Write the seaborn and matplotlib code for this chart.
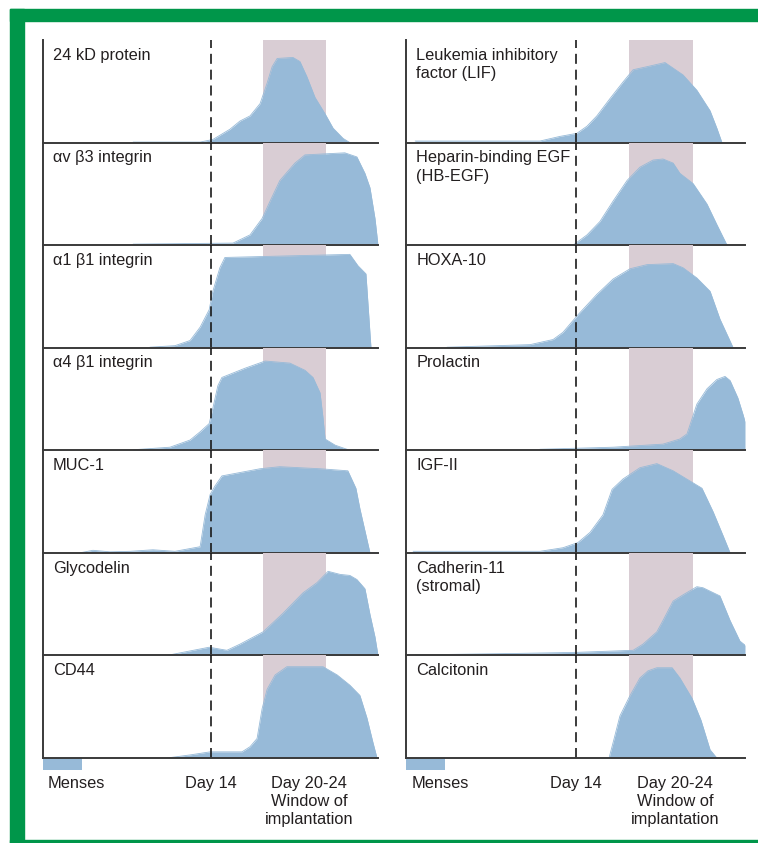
import matplotlib
matplotlib.use("Agg")
import matplotlib.pyplot as plt
from matplotlib.patches import Rectangle
import seaborn as sns

# x = position along the cycle axis (0-100, Day 14 at 50)
# y = relative expression, % of panel height
DAY14 = 50
WINDOW = [65.8, 84.6]
MENSES = [0, 11.6]

TICK_LABELS = ["Menses", "Day 14", "Day 20-24\nWindow of\nimplantation"]
TICK_POS = [10, 50.2, 79.4]

LEFT_LABELS = ["24 kD protein", "αv β3 integrin", "α1 β1 integrin", "α4 β1 integrin",
               "MUC-1", "Glycodelin", "CD44"]
RIGHT_LABELS = ["Leukemia inhibitory\nfactor (LIF)", "Heparin-binding EGF\n(HB-EGF)", "HOXA-10",
                "Prolactin", "IGF-II", "Cadherin-11\n(stromal)", "Calcitonin"]

# left column
kd24_x = [26.9, 46.9, 50.7, 55.8, 58.8, 61.8, 64.8, 66.9, 68.4, 69.9, 74.6, 76.7, 78.8, 81.2, 84.2, 86.6, 89.6, 91.6]
kd24_y = [0.5, 0.5, 3, 13, 21, 26, 38, 58, 74, 82, 83, 79, 64, 44, 28, 14, 4, 0]
avb3_x = [26.9, 56.7, 61.8, 65.4, 67.8, 70.7, 75.2, 78.2, 90.1, 93.7, 96.1, 97.6, 99.1, 100]
avb3_y = [1, 2, 10, 26, 43, 63, 80, 88, 90, 86, 70, 56, 26, 0]
a1b1_x = [31.9, 39.4, 43.9, 46.9, 49.6, 50.7, 52.8, 54.3, 91.6, 94.0, 96.4, 97.9]
a1b1_y = [0.5, 2, 7, 20, 37, 55, 78, 88, 91, 80, 72, 0]
a4b1_x = [26.9, 37.9, 43.9, 46.9, 49.6, 50.7, 52.2, 53.4, 60.3, 66.3, 73.7, 78.2, 80.6, 82.7, 83.6, 84.2, 87.2, 91.6]
a4b1_y = [0.5, 3, 10, 18, 26, 41, 63, 71, 80, 87, 85, 78, 71, 56, 31, 11, 5, 0]
muc1_x = [11.0, 14.9, 20.0, 26.0, 32.8, 39.4, 46.9, 48.4, 49.9, 51.3, 53.4, 64.8, 70.7, 82.7, 91.0, 93.4, 94.6, 97.6]
muc1_y = [0, 2.5, 1, 1.5, 3, 1.5, 6, 37, 57, 65, 75, 82, 84, 82, 80, 63, 43, 0]
glyc_x = [37.0, 49.6, 54.9, 58.8, 65.7, 71.6, 77.6, 81.8, 85.1, 88.7, 91.6, 93.7, 96.1, 97.6, 99.1, 100]
glyc_y = [0, 8, 5, 11, 23, 41, 61, 71, 82, 79, 78, 74, 65, 40, 18, 0]
cd44_x = [37.0, 43.9, 49.9, 59.4, 61.8, 63.9, 65.4, 66.9, 69.3, 72.8, 83.6, 87.8, 91.6, 94.6, 96.7, 98.5, 99.7]
cd44_y = [0, 3, 6, 6, 11, 19, 48, 67, 81, 89, 89, 81, 71, 61, 39, 15, 0]

# right column
lif_x = [2.7, 39.5, 45.4, 50.4, 53.4, 56.3, 60.2, 64.0, 67.0, 71.1, 76.4, 81.7, 85.8, 89.7, 91.7, 93.2]
lif_y = [1.5, 1.5, 6, 9, 16, 26, 43, 59, 71, 74, 78, 66, 51, 31, 14, 0]
hbegf_x = [49.3, 53.4, 57.2, 61.1, 65.2, 69.0, 72.9, 75.8, 78.8, 80.8, 84.7, 88.8, 91.7, 94.7]
hbegf_y = [0, 10, 23, 43, 63, 76, 83, 84, 80, 70, 60, 40, 20, 0]
hoxa_x = [12.1, 36.6, 43.4, 46.3, 50.7, 56.3, 61.1, 66.1, 71.1, 78.8, 81.7, 85.8, 89.7, 92.6, 96.5]
hoxa_y = [0.5, 3, 8, 15, 32, 52, 67, 77, 81, 82, 78, 68, 55, 28, 0]
prl_x = [39.5, 61.1, 75.8, 80.8, 82.9, 85.8, 88.8, 91.7, 94.1, 95.6, 97.9, 99.4, 100]
prl_y = [1, 3, 6, 11, 16, 45, 60, 69, 72, 68, 51, 35, 28]
igf2_x = [2.1, 39.5, 46.3, 50.7, 54.3, 58.1, 60.8, 64.0, 69.0, 74.0, 78.8, 83.8, 87.3, 90.6, 93.5, 95.6]
igf2_y = [1.5, 1.5, 5, 10, 20, 37, 62, 72, 83, 87, 80, 70, 63, 40, 17, 0]
cdh11_x = [2.7, 33.6, 50.4, 67.0, 69.9, 74.0, 75.8, 78.8, 81.7, 85.8, 87.6, 92.6, 95.6, 98.5, 100]
cdh11_y = [0.5, 2, 3, 5, 11, 23, 34, 53, 59, 67, 66, 58, 34, 14, 10]
calc_x = [59.9, 61.4, 63.1, 66.1, 69.0, 71.4, 74.0, 78.5, 80.8, 84.4, 87.0, 89.7, 91.7]
calc_y = [0, 19, 41, 61, 78, 85, 88, 88, 78, 58, 37, 8, 0]

left_curves = [(kd24_x, kd24_y), (avb3_x, avb3_y), (a1b1_x, a1b1_y), (a4b1_x, a4b1_y),
               (muc1_x, muc1_y), (glyc_x, glyc_y), (cd44_x, cd44_y)]
right_curves = [(lif_x, lif_y), (hbegf_x, hbegf_y), (hoxa_x, hoxa_y), (prl_x, prl_y),
                (igf2_x, igf2_y), (cdh11_x, cdh11_y), (calc_x, calc_y)]

BLUE = "#97bad8"
PINK = "#d9cdd4"
GREEN = "#00964a"
INK = "#231f20"
LINE = "#3a3a3a"

sns.set_theme(style="white")
plt.rcParams["font.family"] = ["Liberation Sans", "DejaVu Sans"]

W, H = 758, 843
fig = plt.figure(figsize=(W / 100, H / 100), dpi=100)
fig.patch.set_facecolor("white")

# green frame
for x0, y0, w, h in [(10, 9, 748, 12), (10, 9, 14, 834), (10, 840, 748, 3)]:
    fig.patches.append(Rectangle((x0 / W, 1 - (y0 + h) / H), w / W, h / H,
                                 transform=fig.transFigure, color=GREEN, zorder=0))

top, bottom = 1 - 40 / H, 1 - 758 / H
columns = [(43, 378, LEFT_LABELS, left_curves), (406, 745, RIGHT_LABELS, right_curves)]

for x_left, x_right, labels, curves in columns:
    gs = fig.add_gridspec(7, 1, left=x_left / W, right=x_right / W, top=top, bottom=bottom, hspace=0)
    for i, (label, (cx, cy)) in enumerate(zip(labels, curves)):
        ax = fig.add_subplot(gs[i, 0])
        ax.set_facecolor("none")
        ax.axvspan(WINDOW[0], WINDOW[1], color=PINK, lw=0, zorder=0)
        ax.fill_between(cx, cy, color=BLUE, lw=0, zorder=2)
        sns.lineplot(x=cx, y=cy, ax=ax, color=BLUE, lw=0.6, estimator=None, sort=False, zorder=2)
        ax.axvline(DAY14, color="#1a1a1a", lw=1.2, ls=(0, (6, 3.5)), zorder=4)
        ax.text(0.03, 0.925, label, transform=ax.transAxes, ha="left", va="top",
                fontsize=11.8, color=INK, linespacing=1.3, zorder=5)
        ax.set(xlim=(0, 100), ylim=(0, 100), xticks=[], yticks=[], xlabel="", ylabel="")
        for side in ["top", "right"]:
            ax.spines[side].set_visible(False)
        for side in ["left", "bottom"]:
            ax.spines[side].set_color(LINE)
            ax.spines[side].set_linewidth(1.4)
            ax.spines[side].set_zorder(6)
        if i == 6:
            trans = ax.get_xaxis_transform()
            ax.add_patch(Rectangle((MENSES[0], -0.115), MENSES[1] - MENSES[0], 0.115,
                                   transform=trans, color=BLUE, lw=0, clip_on=False))
            for pos, txt in zip(TICK_POS, TICK_LABELS):
                ax.text(pos, -0.18, txt, transform=trans, ha="center", va="top",
                        fontsize=11.8, color=INK, linespacing=1.22)

fig.savefig("out.png", dpi=100, facecolor="white")
